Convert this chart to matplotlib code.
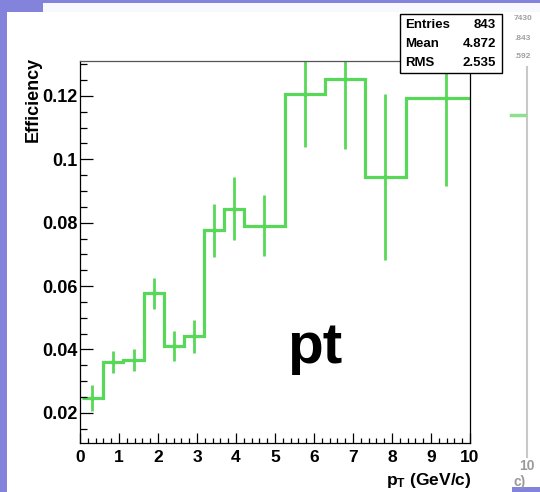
import matplotlib
matplotlib.use("Agg")
import matplotlib.pyplot as plt
from matplotlib.patches import Rectangle
from matplotlib.ticker import MultipleLocator, FuncFormatter
import numpy as np

# ---- data (x in axis units) ----
bin_edges = [0.05, 0.585, 1.11, 1.64, 2.15, 2.66, 3.17, 3.69, 4.20, 5.25, 6.28, 7.30, 8.35, 10.42]
efficiency = [0.0247, 0.0360, 0.0367, 0.0578, 0.0410, 0.0441, 0.0776, 0.0844,
              0.0791, 0.1205, 0.1252, 0.0944, 0.1194]
eff_error = [0.0042, 0.0035, 0.0035, 0.0049, 0.0047, 0.0053, 0.0083, 0.0100,
             0.0095, 0.0166, 0.0219, 0.0262, 0.0279]
x_tick_values = list(range(0, 11))
y_tick_values = [0.02, 0.04, 0.06, 0.08, 0.10, 0.12]
stats_names = ["Entries", "Mean", "RMS"]
stats_values = ["843", "4.872", "2.535"]
y_label = "Efficiency"
x_label = r"p$_{\mathbf{T}}$ (GeV/c)"
big_text = "pt"

W, H = 540, 492
plt.rcParams['font.family'] = ['Liberation Sans', 'DejaVu Sans']
plt.rcParams['mathtext.fontset'] = 'custom'
plt.rcParams['mathtext.rm'] = 'Liberation Sans:bold'
plt.rcParams['mathtext.bf'] = 'Liberation Sans:bold'
plt.rcParams['mathtext.it'] = 'Liberation Sans:bold'

PURPLE = '#8383dc'
GREEN = '#58d858'

fig = plt.figure(figsize=(W / 100, H / 100), dpi=100, facecolor=PURPLE)


def fx(px):
    return px / W


def fy(py):
    return 1 - py / H


def rect(x0, y0, x1, y1, zorder=-10, **kw):
    fig.add_artist(Rectangle((fx(x0), fy(y1)), fx(x1) - fx(x0), fy(y0) - fy(y1),
                             transform=fig.transFigure, zorder=zorder, **kw))


# background windows
rect(43, 3, 540, 12, facecolor='#f8f8ff', edgecolor='none')
rect(512, 12, 540, 487, facecolor='white', edgecolor='none')
rect(7, 12, 512, 492, facecolor='white', edgecolor='none')
# faint right-hand panel decorations
fig.add_artist(plt.Line2D([fx(527), fx(527)], [fy(67), fy(457)], color='#c8c8c8', lw=1.5))
fig.add_artist(plt.Line2D([fx(511), fx(525)], [fy(115), fy(115)], color='#8ee08e', lw=2.5))
for txt, py in zip(["7430", ".843", ".592"], [18, 38, 57]):
    fig.text(fx(514), fy(py), txt, fontsize=6, color='#a0a0a0', va='center', ha='left',
             fontweight='bold')
fig.text(fx(519), fy(466), "10", fontsize=10, color='#9a9a9a', va='center', ha='left',
         fontweight='bold')
fig.text(fx(514), fy(482), "c)", fontsize=10, color='#9a9a9a', va='center', ha='left',
         fontweight='bold')

# ---- axes ----
ax = fig.add_axes([fx(80), fy(443), fx(470) - fx(80), fy(61) - fy(443)])
ax.set_facecolor('white')
ax.set_xlim(0, 10)
ax.set_ylim(0.0105, 0.131)

ax.stairs(efficiency, bin_edges, baseline=None, color=GREEN, lw=2.3)
centers = 0.5 * (np.array(bin_edges[:-1]) + np.array(bin_edges[1:]))
ax.errorbar(centers, efficiency, yerr=eff_error, fmt='o', ms=2.5, color=GREEN,
            ecolor=GREEN, elinewidth=2.0, capsize=0)

for s in ax.spines.values():
    s.set_linewidth(0.9)
    s.set_color('black')
ax.spines['top'].set_color('#555555')

ax.set_xticks(x_tick_values)
ax.xaxis.set_minor_locator(MultipleLocator(0.2))
ax.set_yticks(y_tick_values)
ax.yaxis.set_minor_locator(MultipleLocator(0.005))
ax.yaxis.set_major_formatter(FuncFormatter(lambda v, p: f"{v:g}"))
ax.tick_params(axis='both', which='both', direction='in', top=False, right=False,
               width=0.9)
ax.tick_params(axis='y', which='major', length=9, pad=2, labelsize=13)
ax.tick_params(axis='y', which='minor', length=5)
ax.tick_params(axis='x', which='major', length=7, pad=5, labelsize=12.5)
ax.tick_params(axis='x', which='minor', length=3.5)
for lab in ax.get_xticklabels() + ax.get_yticklabels():
    lab.set_fontweight('bold')

# axis titles (ROOT style, at the far ends)
fig.text(fx(33), fy(57), y_label, rotation=90, ha='center', va='top',
         fontsize=13, fontweight='bold')
fig.text(fx(472), fy(480), x_label, ha='right', va='center',
         fontsize=12.5, fontweight='bold')

# big label
ax.text(0.53, 0.21, big_text, transform=ax.transAxes, fontsize=42,
        fontweight='bold', ha='left', va='baseline')

# stats box
rect(400, 14, 502, 73, zorder=5, facecolor='white', edgecolor='black', lw=1.0)
for name, val, py in zip(stats_names, stats_values, [25, 44, 63]):
    fig.text(fx(405), fy(py), name, ha='left', va='center', fontsize=9.5,
             fontweight='bold', zorder=6)
    fig.text(fx(496), fy(py), val, ha='right', va='center', fontsize=9.5,
             fontweight='bold', zorder=6)

fig.savefig("out.png", dpi=100, facecolor=PURPLE)
